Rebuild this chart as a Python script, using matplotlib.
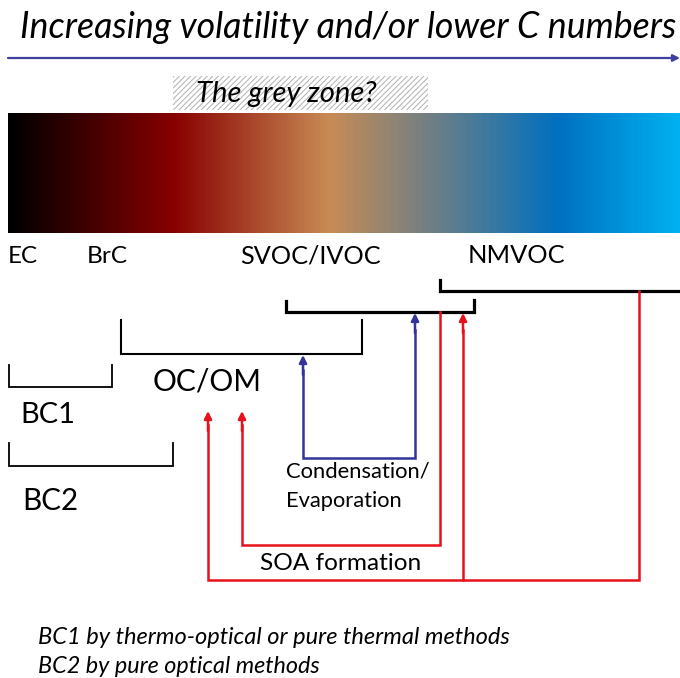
import numpy as np
import matplotlib
matplotlib.use("Agg")
import matplotlib.pyplot as plt
from matplotlib.colors import LinearSegmentedColormap
from matplotlib.patches import Rectangle

plt.rcParams['font.family'] = ['Lato', 'DejaVu Sans']
plt.rcParams['hatch.linewidth'] = 0.7

# texts
title = "Increasing volatility and/or lower C numbers"
grey_zone = "The grey zone?"
species = ["EC", "BrC", "SVOC/IVOC", "NMVOC"]
groups = ["OC/OM", "BC1", "BC2"]
process = ["Condensation/", "Evaporation", "SOA formation"]
notes = ["BC1 by thermo-optical or pure thermal methods",
         "BC2 by pure optical methods"]

# gradient colours (position along bar, colour)
grad_pos = [0.0, 0.245, 0.478, 0.82, 1.0]
grad_col = ["#000000", "#880000", "#c98b55", "#0070c0", "#00b0f0"]

# layout in pixel coords: (left x, baseline y, width)
species_pos = [(8, 263, 30), (87, 263, 41), (240, 263, 140), (468, 263, 97)]
groups_pos = [(153, 390, 109), (20, 423, 55), (22, 510, 56)]
process_pos = [(286, 478, 144), (286, 507, 116), (260, 570, 161)]
notes_pos = [(38, 644, 472), (38, 673, 282)]

BLACK = "#000000"
RED = "#e8101a"
BLUE = "#333399"

fig = plt.figure(figsize=(6.8, 6.78), dpi=100)
ax = fig.add_axes([0, 0, 1, 1])
ax.set_xlim(0, 680)
ax.set_ylim(678, 0)
ax.axis('off')
renderer = fig.canvas.get_renderer()


def fit_text(s, x, y, w, **kw):
    t = ax.text(x, y, s, ha='left', va='baseline', fontsize=20, **kw)
    bb = t.get_window_extent(renderer=renderer)
    t.set_fontsize(20 * w / bb.width)
    return t


# title and arrow
fit_text(title, 20, 38, 655, style='italic')
ax.annotate('', xy=(680, 58), xytext=(8, 58),
            arrowprops=dict(arrowstyle='-|>', color="#3f3f9f", lw=1.6,
                            mutation_scale=10, shrinkA=0, shrinkB=0))

# grey zone box
ax.add_patch(Rectangle((173, 76), 255, 34, facecolor='white',
                       edgecolor='#b0b0b0', hatch='//////', lw=0))
fit_text(grey_zone, 196, 102, 180, style='italic')

# gradient bar
cmap = LinearSegmentedColormap.from_list('vol', list(zip(grad_pos, grad_col)))
ax.imshow(np.linspace(0, 1, 600)[None, :], cmap=cmap, aspect='auto',
          extent=(8, 680, 233, 113))

for s, (x, y, w) in zip(species, species_pos):
    fit_text(s, x, y, w)
for s, (x, y, w) in zip(groups, groups_pos):
    fit_text(s, x, y, w)
for s, (x, y, w) in zip(process, process_pos):
    fit_text(s, x, y, w)
for s, (x, y, w) in zip(notes, notes_pos):
    fit_text(s, x, y, w, style='italic')

# brackets
brackets = [
    ([440, 440, 680], [280, 291, 291], 2.3),
    ([286, 286, 474, 474], [301, 312, 312, 300], 2.3),
    ([121, 121, 362, 362], [320, 354, 354, 320], 1.5),
    ([9, 9, 112, 112], [365, 387, 387, 365], 1.3),
    ([9, 9, 173, 173], [443, 466, 466, 443], 1.3),
]
for xs, ys, lw in brackets:
    ax.plot(xs, ys, color=BLACK, lw=lw, solid_joinstyle='miter')

# process paths and their arrow tips
paths = [
    ([303, 303, 415, 415], [370, 458, 458, 330], BLUE, [(303, 355), (415, 313)]),
    ([440, 440, 242, 242], [312, 545, 545, 425], RED, [(242, 411)]),
    ([639, 639, 208, 208], [291, 580, 580, 425], RED, [(208, 411)]),
    ([463, 463], [580, 330], RED, [(463, 313)]),
]
for xs, ys, c, tips in paths:
    ax.plot(xs, ys, color=c, lw=1.8, solid_joinstyle='miter')
    for tx, ty in tips:
        ax.annotate('', xy=(tx, ty), xytext=(tx, ty + 20),
                    arrowprops=dict(arrowstyle='-|>', color=c, lw=1.8,
                                    mutation_scale=11, shrinkA=0, shrinkB=0))

fig.savefig('out.png', dpi=100)
